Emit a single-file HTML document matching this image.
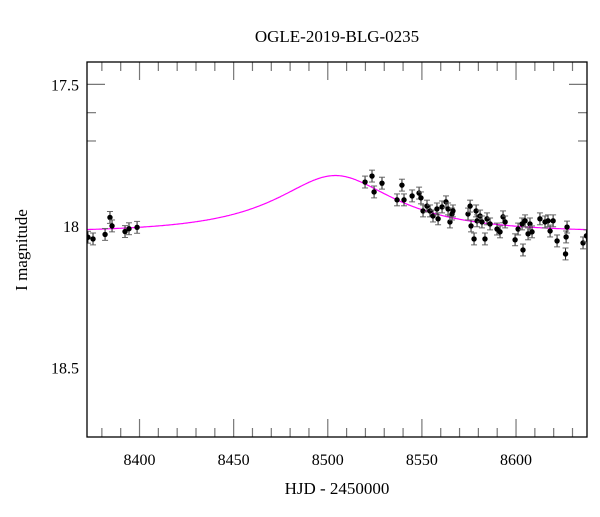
<!DOCTYPE html>
<html><head><meta charset="utf-8"><style>
html,body{margin:0;padding:0;background:#fff;}
svg text{font-family:"Liberation Serif",serif;fill:#000;}
</style></head><body>
<svg width="600" height="512" viewBox="0 0 600 512">
<text x="337" y="42" text-anchor="middle" font-size="17">OGLE-2019-BLG-0235</text>
<g id="ticks"></g>
<defs><clipPath id="clip"><rect x="87" y="62" width="500" height="375"/></clipPath></defs>
<g id="plot" clip-path="url(#clip)"></g>
<rect x="87" y="62" width="500" height="375" fill="none" stroke="#000" stroke-width="1.3"/>
<text x="337" y="494" text-anchor="middle" font-size="17">HJD - 2450000</text>
<text transform="translate(27,250) rotate(-90)" text-anchor="middle" font-size="17">I magnitude</text>
</svg>
<script>
const xTicks = [8400, 8450, 8500, 8550, 8600];
const yTicks = [17.5, 18, 18.5];
const yTickLabels = ["17.5", "18", "18.5"];
const obsTime = [8372.6,8375.3,8381.7,8384.3,8385.4,8392.3,8394.4,8398.7,
8519.8,8523.5,8524.6,8528.8,8536.8,8539.4,8540.5,8544.8,8548.5,8549.5,8550.6,8552.7,8554.3,8555.9,8558.0,8558.6,8560.7,8562.8,8563.9,8564.9,8566.0,8566.5,
8574.5,8575.6,8576.1,8577.7,8578.8,8579.3,8580.9,8581.9,8583.5,8584.6,8586.2,8589.9,8591.5,8593.1,8594.2,8599.5,8601.1,8603.2,8603.7,8604.8,8606.4,8607.4,8608.5,
8612.7,8615.4,8617.0,8618.1,8619.7,8621.8,8626.6,8626.3,8627.1,8635.6,8637.4];
const obsMag = [18.04,18.046,18.03,17.97,18.0,18.02,18.01,18.005,
17.845,17.824,17.880,17.849,17.908,17.856,17.908,17.894,17.884,17.901,17.947,17.930,17.947,17.965,17.940,17.975,17.933,17.915,17.940,17.986,17.958,17.947,
17.958,17.930,18.0,18.046,17.947,17.982,17.965,17.986,18.046,17.975,17.993,18.011,18.021,17.968,17.986,18.049,18.011,17.993,18.085,17.982,18.028,17.993,18.021,
17.975,17.986,17.982,18.018,17.982,18.053,18.039,18.099,18.004,18.060,18.035];
const obsErr = 0.021;
const modelT0 = 8504, modelU0 = 0.5, modelTE = 63.5, modelFs = 0.171, modelBase = 18.022;

const svgNS = "http://www.w3.org/2000/svg";
const X0 = 87, X1 = 587, Y0 = 62, Y1 = 437;
const xMin = 8372.1, xMax = 8637.7, yMin = 17.421, yMax = 18.7456;
const sx = t => X0 + (t - xMin) / (xMax - xMin) * (X1 - X0);
const sy = m => Y0 + (m - yMin) / (yMax - yMin) * (Y1 - Y0);
function mk(tag, attrs, parent) { const e = document.createElementNS(svgNS, tag); for (const k in attrs) e.setAttribute(k, attrs[k]); parent.appendChild(e); return e; }
const tg = document.getElementById('ticks'), pg = document.getElementById('plot');
const tc = "#777";
// x ticks
for (let t = 8380; t <= xMax; t += 10) {
  const major = t % 50 === 0, L = major ? 18 : 9, x = sx(t);
  const a = mk('line', {x1:x, x2:x, y1:Y1, y2:Y1-L, stroke:tc, 'stroke-width':1.2}, tg);
  
  
  const b = mk('line', {x1:x, x2:x, y1:Y0, y2:Y0+L, stroke:tc, 'stroke-width':1.2}, tg);
  
  
}
xTicks.forEach(t => {
  const e = mk('text', {x:sx(t), y:465, 'text-anchor':'middle', 'font-size':16}, tg);
  e.textContent = t;
  
  
});
// y ticks
for (let i = 5; i <= 47; i++) {
  const m = i / 10 + 13; if (m < yMin || m > yMax) continue;
  const major = i % 5 === 0, L = major ? 18 : 9, y = sy(m);
  const a = mk('line', {x1:X0, x2:X0+L, y1:y, y2:y, stroke:tc, 'stroke-width':1.2}, tg);
  
  
  const b = mk('line', {x1:X1, x2:X1-L, y1:y, y2:y, stroke:tc, 'stroke-width':1.2}, tg);
  
  
}
yTicks.forEach((m, i) => {
  const e = mk('text', {x:79, y:sy(m)+6, 'text-anchor':'end', 'font-size':16}, tg);
  e.textContent = yTickLabels[i];
  
  
});
// model
let d = "";
for (let t = xMin; t <= xMax; t += 0.5) {
  const tau = (t - modelT0) / modelTE, u = Math.sqrt(modelU0*modelU0 + tau*tau);
  const A = (u*u + 2) / (u * Math.sqrt(u*u + 4));
  const m = modelBase - 2.5 * Math.log10(modelFs * A + 1 - modelFs);
  d += (d ? "L" : "M") + sx(t).toFixed(1) + "," + sy(m).toFixed(1);
}
const curve = mk('path', {d:d, fill:'none', stroke:'#f0f', 'stroke-width':1.2}, pg);


// points
obsTime.forEach((t, i) => {
  const x = sx(t), y = sy(obsMag[i]), ya = sy(obsMag[i]-obsErr), yb = sy(obsMag[i]+obsErr);
  const g = mk('g', {}, pg);
  
  
  mk('line', {x1:x, x2:x, y1:ya, y2:yb, stroke:'#222', 'stroke-width':1}, g);
  mk('line', {x1:x-3, x2:x+3, y1:ya, y2:ya, stroke:'#666', 'stroke-width':1}, g);
  mk('line', {x1:x-3, x2:x+3, y1:yb, y2:yb, stroke:'#666', 'stroke-width':1}, g);
  mk('circle', {cx:x, cy:y, r:2.7, fill:'#000'}, g);
});
</script>
</body></html>
